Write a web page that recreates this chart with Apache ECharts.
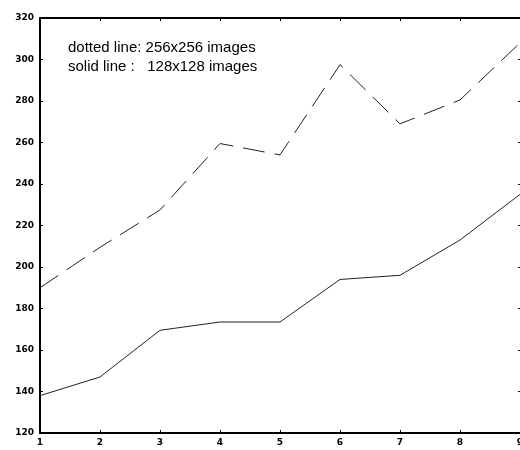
<!DOCTYPE html>
<html>
<head>
<meta charset="utf-8">
<script src="https://cdn.jsdelivr.net/npm/echarts@6/dist/echarts.min.js"></script>
<style>html,body{margin:0;padding:0;background:#fff}#c{width:520px;height:450px}</style>
</head>
<body>
<div id="c"></div>
<script>
var xValues = [1, 2, 3, 4, 5, 6, 7, 8, 9];
var dotted256 = [190, 209.5, 227.5, 259.5, 254, 297.5, 269, 280.5, 308];
var solid128 = [138, 147, 169.5, 173.5, 173.5, 194, 196, 213, 235];
var legendLines = ['dotted line: 256x256 images', 'solid line :   128x128 images'];

function pairs(xs, ys) { return xs.map(function (x, i) { return [x, ys[i]]; }); }

var labelFont = { color: '#000', fontFamily: 'DejaVu Sans', fontWeight: 'bold', fontSize: 9 };
var chart = echarts.init(document.getElementById('c'), null, { renderer: 'canvas' });
chart.setOption({
  animation: false,
  backgroundColor: '#fff',
  grid: { left: 40, right: 0, top: 18, bottom: 17, containLabel: false, outerBoundsMode: 'none' },
  xAxis: [{
    type: 'value', min: 1, max: 9, interval: 1, position: 'bottom',
    axisLine: { show: true, onZero: false, lineStyle: { color: '#000', width: 2 } },
    axisTick: { show: true, inside: true, length: 3, lineStyle: { color: '#000' } },
    axisLabel: Object.assign({ margin: 5 }, labelFont),
    splitLine: { show: false }
  }, {
    type: 'value', min: 1, max: 9, interval: 1, position: 'top',
    axisLine: { show: true, onZero: false, lineStyle: { color: '#000', width: 2 } },
    axisTick: { show: true, inside: true, length: 3, lineStyle: { color: '#000' } },
    axisLabel: { show: false },
    splitLine: { show: false }
  }],
  yAxis: [{
    type: 'value', min: 120, max: 320, interval: 20, position: 'left',
    axisLine: { show: true, onZero: false, lineStyle: { color: '#000', width: 2 } },
    axisTick: { show: true, inside: true, length: 3, lineStyle: { color: '#000' } },
    axisLabel: Object.assign({ margin: 6 }, labelFont),
    splitLine: { show: false }
  }, {
    type: 'value', min: 120, max: 320, interval: 20, position: 'right',
    axisLine: { show: false },
    axisTick: { show: true, inside: true, length: 2, lineStyle: { color: '#000' } },
    axisLabel: { show: false },
    splitLine: { show: false }
  }],
  graphic: [
    { type: 'text', left: 68, top: 40, style: { text: legendLines[0], fill: '#000', font: '15px "Liberation Sans", Arial, sans-serif' } },
    { type: 'text', left: 68, top: 59, style: { text: legendLines[1], fill: '#000', font: '15px "Liberation Sans", Arial, sans-serif' } }
  ],
  series: [{
    type: 'line', data: pairs(xValues, dotted256), symbol: 'none',
    lineStyle: { color: '#222', width: 1, type: [22, 10] }
  }, {
    type: 'line', data: pairs(xValues, solid128), symbol: 'none',
    lineStyle: { color: '#222', width: 1 }
  }]
});
</script>
</body>
</html>
